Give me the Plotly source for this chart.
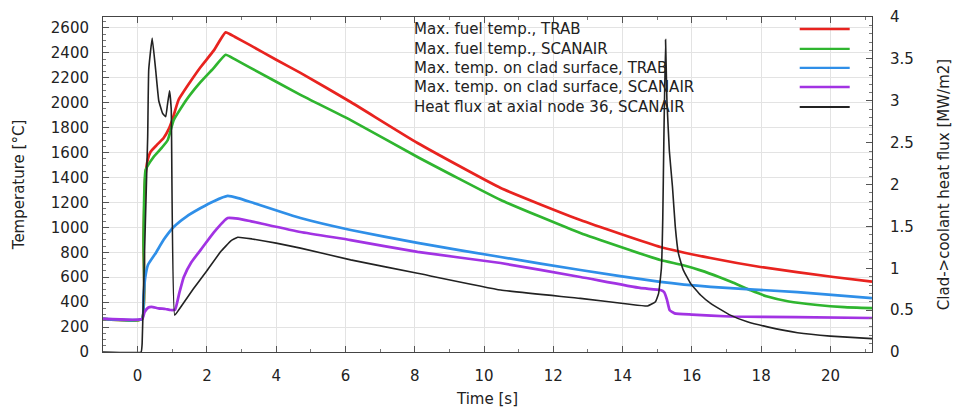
import plotly.graph_objects as go

# ---- data ----
t_red = [-1, 0.12, 0.17, 0.22, 0.29, 0.37, 0.55, 0.75, 0.9, 1.0, 1.18, 1.5, 1.82, 2.2, 2.54, 2.8,
         3.26, 4.0, 4.7, 6.15, 8.08, 10.48, 12.78, 15.09, 16.54, 17.98, 20.09, 21.2]
T_red = [265, 265, 900, 1400, 1541, 1605, 1660, 1717, 1790, 1862, 2022, 2160, 2287, 2420, 2565, 2530,
         2460, 2345, 2240, 2006, 1677, 1316, 1059, 843, 754, 682, 602, 565]

t_green = [-1, 0.12, 0.17, 0.23, 0.46, 0.7, 0.87, 1.04, 1.4, 1.82, 2.2, 2.54, 2.8, 3.26, 4.7, 6.15,
           8.08, 10.48, 12.78, 15.09, 15.7, 16.25, 16.8, 17.2, 17.7, 18.18, 18.8, 19.62, 20.4, 21.2]
T_green = [265, 265, 900, 1460, 1565, 1640, 1701, 1860, 2020, 2167, 2280, 2385, 2350, 2280, 2063, 1861,
           1565, 1220, 955, 738, 700, 655, 600, 555, 495, 445, 405, 377, 360, 352]

t_blue = [-1, 0.13, 0.17, 0.22, 0.3, 0.52, 0.75, 1.04, 1.4, 1.82, 2.2, 2.6, 2.9, 3.26, 4.7, 6.15,
          8.08, 10.48, 12.78, 15.09, 16.54, 19.05, 21.2]
T_blue = [265, 265, 450, 600, 700, 793, 900, 1003, 1085, 1155, 1210, 1252, 1235, 1204, 1075, 979,
          875, 762, 658, 562, 522, 481, 433]

t_purple = [-1, 0.13, 0.2, 0.3, 0.4, 0.6, 0.8, 0.95, 1.08, 1.2, 1.33, 1.55, 1.82, 2.2, 2.6, 2.9, 3.26,
            4.7, 6.15, 8.08, 10.48, 12.78, 14.5, 15.09, 15.2, 15.28, 15.36, 15.5, 16.0, 17.1, 19.0, 21.2]
T_purple = [265, 265, 320, 355, 362, 350, 345, 337, 340, 470, 600, 720, 819, 960, 1075, 1070, 1050,
            963, 898, 803, 714, 602, 514, 497, 480, 420, 335, 310, 300, 285, 280, 273]

t_black = [-1, 0.1, 0.13, 0.2, 0.29, 0.32, 0.42, 0.52, 0.61, 0.72, 0.81, 0.86, 0.92, 0.97, 1.07, 1.3, 1.6,
           2.0, 2.4, 2.7, 2.89, 3.3, 4.0, 4.7, 6.15, 8.08, 10.48, 12.78, 14.2, 14.72, 14.95, 15.04, 15.12,
           15.16, 15.19, 15.24, 15.28, 15.35, 15.44, 15.52, 15.61, 15.75, 15.96, 16.25, 16.54, 17.11,
           17.6, 18.18, 19.05, 20.0, 21.2]
q_black = [0, 0, 0.1, 1.2, 2.57, 3.37, 3.75, 3.37, 3.0, 2.85, 2.81, 2.95, 3.12, 2.9, 0.44, 0.57, 0.75,
           0.97, 1.2, 1.33, 1.37, 1.35, 1.30, 1.24, 1.10, 0.94, 0.74, 0.64, 0.57, 0.55, 0.60, 0.70, 1.0,
           1.6, 2.5, 3.73, 3.0, 2.4, 1.97, 1.5, 1.18, 0.98, 0.82, 0.68, 0.58, 0.44,
           0.36, 0.30, 0.23, 0.19, 0.16]

series_names = ["Max. fuel temp., TRAB", "Max. fuel temp., SCANAIR",
                "Max. temp. on clad surface, TRAB", "Max. temp. on clad surface, SCANAIR",
                "Heat flux at axial node 36, SCANAIR"]
colors = ["#e8231f", "#2fb52f", "#2f8fe8", "#a233e3", "#222222"]

FONT = "DejaVu Sans"
FS = 15

fig = go.Figure()
temp_series = [(t_red, T_red), (t_green, T_green), (t_blue, T_blue), (t_purple, T_purple)]
for (tx, ty), name, col in zip(temp_series, series_names[:4], colors[:4]):
    fig.add_trace(go.Scatter(x=tx, y=ty, mode="lines", name=name,
                             line=dict(color=col, width=2.7, shape="spline", smoothing=0.4),
                             showlegend=False))
fig.add_trace(go.Scatter(x=t_black, y=q_black, mode="lines", name=series_names[4], yaxis="y2",
                         line=dict(color=colors[4], width=1.6, shape="spline", smoothing=0.3),
                         showlegend=False))

# legend in gnuplot style: text left, sample on the right
leg_y = [0.964, 0.905, 0.848, 0.791, 0.731]
for name, col, yy in zip(series_names, colors, leg_y):
    fig.add_annotation(x=0.402, y=yy, xref="paper", yref="paper", text=name, showarrow=False,
                       xanchor="left", yanchor="middle", font=dict(family=FONT, size=FS, color="#222"))
    fig.add_shape(type="line", xref="paper", yref="paper", x0=0.906, x1=0.971, y0=yy, y1=yy,
                  line=dict(color=col, width=2.4 if col != "#222222" else 2))

axis_common = dict(ticks="inside", ticklen=6, tickcolor="#555", showline=True, linecolor="#444",
                   linewidth=1, zeroline=False, automargin=False,
                   tickfont=dict(family=FONT, size=FS, color="#222"))

fig.update_layout(
    width=953, height=408, autosize=False,
    margin=dict(l=103, r=81, t=17, b=56),
    plot_bgcolor="white", paper_bgcolor="white",
    xaxis=dict(range=[-1, 21.2], tick0=0, dtick=2, mirror="ticks", showgrid=True,
               gridcolor="#e3e3e3", gridwidth=1,
               minor=dict(dtick=1, tick0=0, ticks="inside", ticklen=3, tickcolor="#777", showgrid=False),
               title=dict(text="Time [s]", font=dict(family=FONT, size=FS, color="#222"), standoff=12),
               ticklabelstandoff=10, **axis_common),
    yaxis=dict(range=[0, 2688], tick0=0, dtick=200, mirror=True, showgrid=True,
               gridcolor="#e3e3e3", gridwidth=1,
               minor=dict(dtick=50, tick0=0, ticks="inside", ticklen=3, tickcolor="#777", showgrid=False),
               title=dict(text="Temperature [°C]", font=dict(family=FONT, size=FS, color="#222"), standoff=22),
               ticklabelstandoff=10, **axis_common),
    yaxis2=dict(range=[0, 4], tick0=0, dtick=0.5, overlaying="y", side="right", showgrid=False,
                minor=dict(dtick=0.1, tick0=0, ticks="inside", ticklen=3, tickcolor="#777"),
                title=dict(text="Clad->coolant heat flux [MW/m2]",
                           font=dict(family=FONT, size=FS, color="#222"), standoff=26),
                ticklabelstandoff=14, **axis_common),
)

fig.write_html("out.html")
